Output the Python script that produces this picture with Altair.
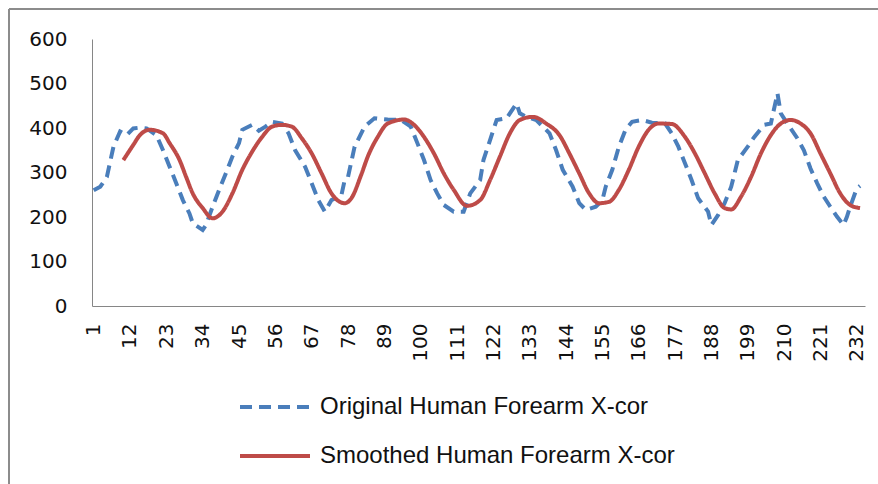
import altair as alt
import pandas as pd

# Original (dashed blue) series: sample index and value
orig_idx = [1, 3, 5, 7, 9, 11, 13, 15, 17, 20, 22, 24, 26, 28, 30, 31, 34, 35, 37, 39,
            41, 43, 45, 46, 49, 51, 53, 55, 58, 60, 62, 65, 67, 69, 71, 73, 76, 77, 78, 80,
            83, 86, 90, 94, 97, 99, 101, 103, 105, 107, 110, 113, 115, 118, 119, 121, 123, 126, 129, 130,
            132, 135, 139, 141, 143, 146, 148, 150, 153, 155, 156, 158, 160, 162, 164, 167, 170, 174, 176, 178,
            180, 182, 184, 187, 188, 190, 192, 194, 196, 199, 201, 204, 206, 208, 209, 211, 214, 216, 218, 220,
            222, 224, 226, 228, 229, 230, 232, 233]
orig_val = [260, 268, 290, 358, 392, 384, 399, 401, 399, 384, 350, 313, 276, 238, 208, 186, 171, 182, 223, 261,
            298, 336, 366, 396, 407, 394, 403, 414, 410, 388, 350, 313, 276, 238, 212, 238, 249, 283, 290, 358,
            403, 422, 419, 418, 403, 366, 328, 283, 253, 227, 212, 212, 253, 283, 328, 373, 418, 422, 455, 433,
            425, 418, 388, 350, 306, 268, 231, 216, 223, 238, 268, 306, 358, 396, 414, 418, 412, 410, 388, 358,
            321, 283, 242, 212, 182, 204, 231, 268, 328, 358, 380, 407, 410, 478, 433, 410, 377, 350, 309, 276,
            246, 223, 201, 182, 200, 223, 264, 270]

# Smoothed (solid red) series
smooth_idx = [10, 13, 15, 18, 22, 24, 27, 29, 31, 34, 37, 40, 43, 46, 49, 52, 55, 58, 61, 64,
              67, 70, 73, 77, 79, 82, 84, 87, 90, 95, 98, 101, 104, 107, 110, 114, 118, 121, 124, 127,
              130, 134, 138, 142, 145, 148, 151, 154, 157, 160, 163, 166, 169, 172, 176, 180, 183, 186, 189, 192,
              194, 197, 200, 203, 206, 209, 212, 215, 218, 221, 224, 227, 230, 233]
smooth_val = [328, 362, 384, 396, 388, 366, 328, 290, 253, 220, 197, 212, 253, 306, 347, 380, 403, 407, 403, 377,
              343, 298, 253, 231, 242, 295, 336, 380, 410, 419, 407, 380, 343, 298, 261, 225, 238, 283, 336, 388,
              418, 425, 410, 384, 343, 298, 253, 231, 234, 261, 306, 358, 396, 410, 409, 380, 343, 298, 253, 220,
              217, 246, 290, 343, 384, 410, 418, 410, 388, 343, 298, 253, 227, 220]

series_names = ["Original Human Forearm X-cor", "Smoothed Human Forearm X-cor"]
x_labels = list(range(1, 233, 11))
y_ticks = [0, 100, 200, 300, 400, 500, 600]

df = pd.concat([
    pd.DataFrame({"series": series_names[0], "idx": orig_idx, "value": orig_val}),
    pd.DataFrame({"series": series_names[1], "idx": smooth_idx, "value": smooth_val}),
])

x_enc = alt.X("idx:Q",
              scale=alt.Scale(domain=[0.5, 234.5], nice=False, zero=False),
              axis=alt.Axis(values=x_labels, labelAngle=-90, ticks=False, grid=False,
                            title=None, labelFontSize=20, labelFont="DejaVu Sans",
                            labelColor="#111111", labelPadding=17, domainColor="#868686",
                            labelOverlap=False, labelBound=False, labelFlush=False))
y_enc = alt.Y("value:Q",
              scale=alt.Scale(domain=[0, 600], nice=False),
              axis=alt.Axis(values=y_ticks, ticks=False, grid=False, title=None,
                            labelFontSize=20, labelFont="DejaVu Sans", labelColor="#111111",
                            labelPadding=25, domainColor="#868686"))
legend_opts = dict(title=None, orient="none", legendX=146, legendY=331,
                   direction="vertical", symbolSize=4900,
                   symbolStrokeWidth=4, labelFontSize=24,
                   labelFont="Liberation Sans", labelColor="#111111",
                   labelOffset=8, rowPadding=-22, labelLimit=600)
color_enc = alt.Color("series:N",
                      scale=alt.Scale(domain=series_names, range=["#4a7ebb", "#be4b48"]),
                      legend=alt.Legend(**legend_opts))
dash_enc = alt.StrokeDash("series:N",
                          scale=alt.Scale(domain=series_names, range=[[12, 7], [1, 0]]),
                          legend=alt.Legend(**legend_opts))

base = alt.Chart(df)
orig_line = base.transform_filter(alt.datum.series == series_names[0]).mark_line(
    strokeWidth=4).encode(x=x_enc, y=y_enc, color=color_enc, strokeDash=dash_enc)
smooth_line = base.transform_filter(alt.datum.series == series_names[1]).mark_line(
    strokeWidth=4, interpolate="monotone").encode(x=x_enc, y=y_enc, color=color_enc, strokeDash=dash_enc)

# outer chart frame (top and left edges visible)
frame_top = alt.Chart(pd.DataFrame({"a": [0]})).mark_rule(color="#8c8c8c", strokeWidth=2).encode(
    x=alt.value(-83), x2=alt.value(800), y=alt.value(-30))
frame_left = alt.Chart(pd.DataFrame({"a": [0]})).mark_rule(color="#8c8c8c", strokeWidth=2).encode(
    x=alt.value(-83), y=alt.value(-30), y2=alt.value(450))

chart = alt.layer(frame_top, frame_left, orig_line, smooth_line).properties(
    width=773, height=267,
    autosize=alt.AutoSizeParams(type="none"),
    padding={"left": 92, "top": 39, "right": 13, "bottom": 178},
).configure(background="white").configure_view(stroke=None)

chart.save("out.html", embed_options={"renderer": "svg", "actions": False})
